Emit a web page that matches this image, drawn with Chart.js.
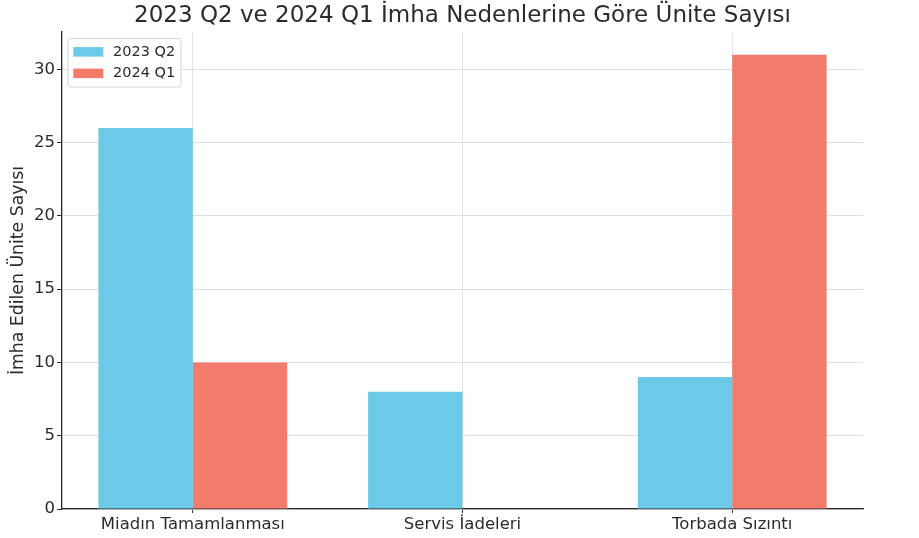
<!DOCTYPE html>
<html><head><meta charset="utf-8">
<script src="https://cdn.jsdelivr.net/npm/chart.js@4"></script>
<style>html,body{margin:0;padding:0;background:#fff;}#wrap{width:919px;height:538px;}</style>
</head><body><div id="wrap"><canvas id="c" width="919" height="538"></canvas></div>
<script>
const chartTitle = '2023 Q2 ve 2024 Q1 İmha Nedenlerine Göre Ünite Sayısı';
const yAxisTitle = 'İmha Edilen Ünite Sayısı';
const categories = ['Miadın Tamamlanması', 'Servis İadeleri', 'Torbada Sızıntı'];
const seriesNames = ['2023 Q2', '2024 Q1'];
const values2023Q2 = [26, 8, 9];
const values2024Q1 = [10, 0, 31];
const yTickValues = [0, 5, 10, 15, 20, 25, 30];
const seriesColors = ['#6DC9E8', '#F27B6C'];

const FONT = 'DejaVu Sans';
const TEXT = '#2b2b2b';

const titlePlugin = {
  id: 'mplTitle',
  afterDraw(chart) {
    const {ctx, chartArea} = chart;
    ctx.save();
    ctx.font = '23px "' + FONT + '"';
    ctx.fillStyle = TEXT;
    ctx.textAlign = 'center';
    ctx.textBaseline = 'middle';
    ctx.fillText(chartTitle, (chartArea.left + chartArea.right) / 2, 16);
    ctx.restore();
  }
};

const legendPlugin = {
  id: 'mplLegend',
  afterDraw(chart) {
    const {ctx, chartArea} = chart;
    const x0 = chartArea.left + 6, y0 = chartArea.top + 6.5;
    ctx.save();
    ctx.beginPath();
    ctx.roundRect(x0, y0, 113, 48.5, 3);
    ctx.fillStyle = 'rgba(255,255,255,0.85)';
    ctx.fill();
    ctx.strokeStyle = '#d4d4d4';
    ctx.lineWidth = 1;
    ctx.stroke();
    ctx.font = '14.5px "' + FONT + '"';
    ctx.textBaseline = 'middle';
    chart.data.datasets.forEach((ds, i) => {
      const cy = y0 + 13.3 + i * 21.5;
      ctx.fillStyle = ds.backgroundColor;
      ctx.fillRect(x0 + 5.3, cy - 4.7, 30, 9.5);
      ctx.fillStyle = TEXT;
      ctx.fillText(ds.label, x0 + 45, cy);
    });
    ctx.restore();
  }
};

const toPoints = arr => arr.map((v, i) => ({x: i, y: v}));

new Chart(document.getElementById('c'), {
  type: 'bar',
  data: {
    datasets: [
      {label: seriesNames[0], data: toPoints(values2023Q2), backgroundColor: seriesColors[0], borderWidth: 0, categoryPercentage: 0.7, barPercentage: 1.0},
      {label: seriesNames[1], data: toPoints(values2024Q1), backgroundColor: seriesColors[1], borderWidth: 0, categoryPercentage: 0.7, barPercentage: 1.0}
    ]
  },
  options: {
    responsive: false,
    animation: false,
    devicePixelRatio: 1,
    layout: {padding: {top: 32, right: 56, left: 0, bottom: 0}},
    plugins: {legend: {display: false}, tooltip: {enabled: false}, title: {display: false}},
    scales: {
      x: {
        type: 'linear',
        min: -0.485, max: 2.485,
        offset: false,
        afterBuildTicks(scale) { scale.ticks = categories.map((_, i) => ({value: i})); },
        afterFit(scale) { scale.height = 29; },
        ticks: {
          callback: v => categories[v],
          font: {family: FONT, size: 16.5},
          color: TEXT,
          padding: 2,
          maxRotation: 0,
          autoSkip: false
        },
        grid: {offset: false, color: '#e4e4e4', lineWidth: 1, tickColor: '#333', tickLength: 4},
        border: {color: '#262626', width: 1.3}
      },
      y: {
        type: 'linear',
        min: 0, max: 32.55,
        afterBuildTicks(scale) { scale.ticks = yTickValues.map(v => ({value: v})); },
        afterFit(scale) { scale.width = 62; },
        ticks: {
          font: {family: FONT, size: 16.5},
          color: TEXT,
          padding: 2
        },
        grid: {color: '#dedede', lineWidth: 1, tickColor: '#333', tickLength: 5},
        border: {color: '#262626', width: 1.3},
        title: {
          display: true,
          text: yAxisTitle,
          font: {family: FONT, size: 17.3},
          color: TEXT,
          padding: {top: 8, bottom: 0}
        }
      }
    }
  },
  plugins: [titlePlugin, legendPlugin]
});
</script>
</body></html>
